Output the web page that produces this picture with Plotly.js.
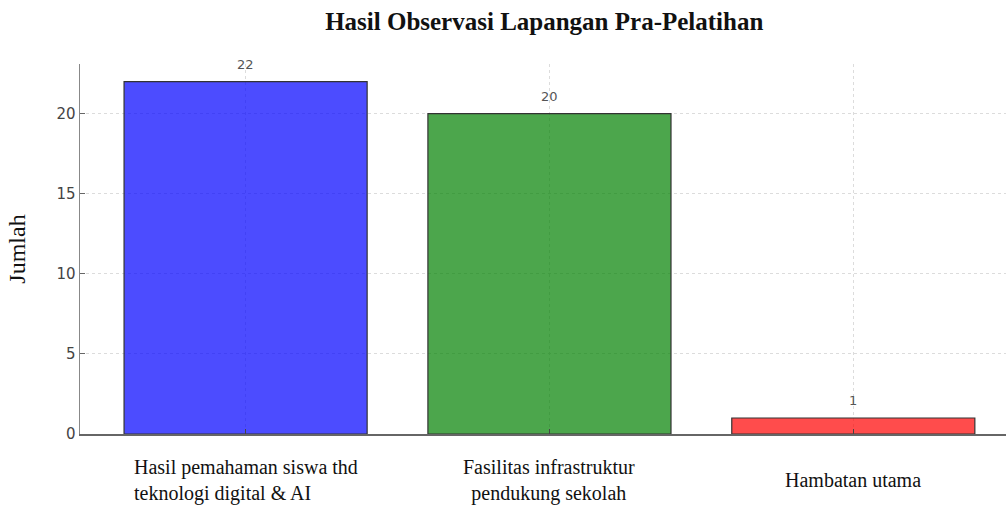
<!DOCTYPE html>
<html>
<head>
<meta charset="utf-8">
<script src="https://cdn.plot.ly/plotly-3.0.1.min.js"></script>
<style>html,body{margin:0;padding:0;background:#fff;}#chart{width:1006px;height:510px;}</style>
</head>
<body>
<div id="chart"></div>
<script>
const categories = [
  "Hasil pemahaman siswa thd<br>teknologi digital & AI",
  "Fasilitas infrastruktur<br>pendukung sekolah",
  "Hambatan utama"
];
const values = [22, 20, 1];
const barColors = ["rgba(0,0,255,0.7)", "rgba(0,128,0,0.7)", "rgba(255,0,0,0.7)"];
const catAlign = ["left", "center", "center"];
const yTicks = [0, 5, 10, 15, 20];

const trace = {
  type: "bar",
  x: categories.map((c, i) => i),
  y: values,
  width: 0.8,
  marker: {color: barColors, line: {color: "#333", width: 1.2}},
  hoverinfo: "none"
};

const annotations = [];
values.forEach((v, i) => {
  annotations.push({
    x: i, y: v, xref: "x", yref: "y", text: String(v), showarrow: false,
    yanchor: "bottom", yshift: 8,
    font: {family: "DejaVu Sans", size: 13, color: "#555"}
  });
  annotations.push({
    x: i, y: -0.125, xref: "x", yref: "paper", text: categories[i], showarrow: false,
    yanchor: "middle", align: catAlign[i],
    font: {family: "Liberation Serif", size: 20, color: "#111"}
  });
});

const layout = {
  width: 1006, height: 510,
  margin: {l: 80, r: 0, t: 64, b: 76, pad: 0},
  paper_bgcolor: "#fff", plot_bgcolor: "#fff",
  showlegend: false,
  title: {
    text: "<b>Hasil Observasi Lapangan Pra-Pelatihan</b>",
    x: 0.541, xanchor: "center", y: 0.958, yanchor: "middle",
    font: {family: "Liberation Serif", size: 25, color: "#111"}
  },
  xaxis: {
    type: "linear",
    range: [-0.545, 2.5025],
    tickvals: [0, 1, 2], showticklabels: false,
    ticks: "inside", ticklen: 5, tickcolor: "#444", tickwidth: 1,
    showgrid: true, gridcolor: "#dcdcdc", griddash: "dot", gridwidth: 1,
    showline: true, linecolor: "#666", linewidth: 1.5,
    zeroline: false, fixedrange: true
  },
  yaxis: {
    range: [0, 23.1],
    tickvals: yTicks, ticktext: yTicks.map(String),
    ticks: "inside", ticklen: 5, tickcolor: "#666", tickwidth: 1,
    tickfont: {family: "DejaVu Sans", size: 15, color: "#444"},
    showgrid: true, gridcolor: "#dcdcdc", griddash: "dot", gridwidth: 1,
    showline: true, linecolor: "#888", linewidth: 1.5,
    zeroline: false, fixedrange: true,
    title: {text: "Jumlah", standoff: 24, font: {family: "Liberation Serif", size: 24, color: "#111"}}
  },
  annotations: annotations
};

Plotly.newPlot("chart", [trace], layout, {displayModeBar: false, staticPlot: true});
</script>
</body>
</html>
